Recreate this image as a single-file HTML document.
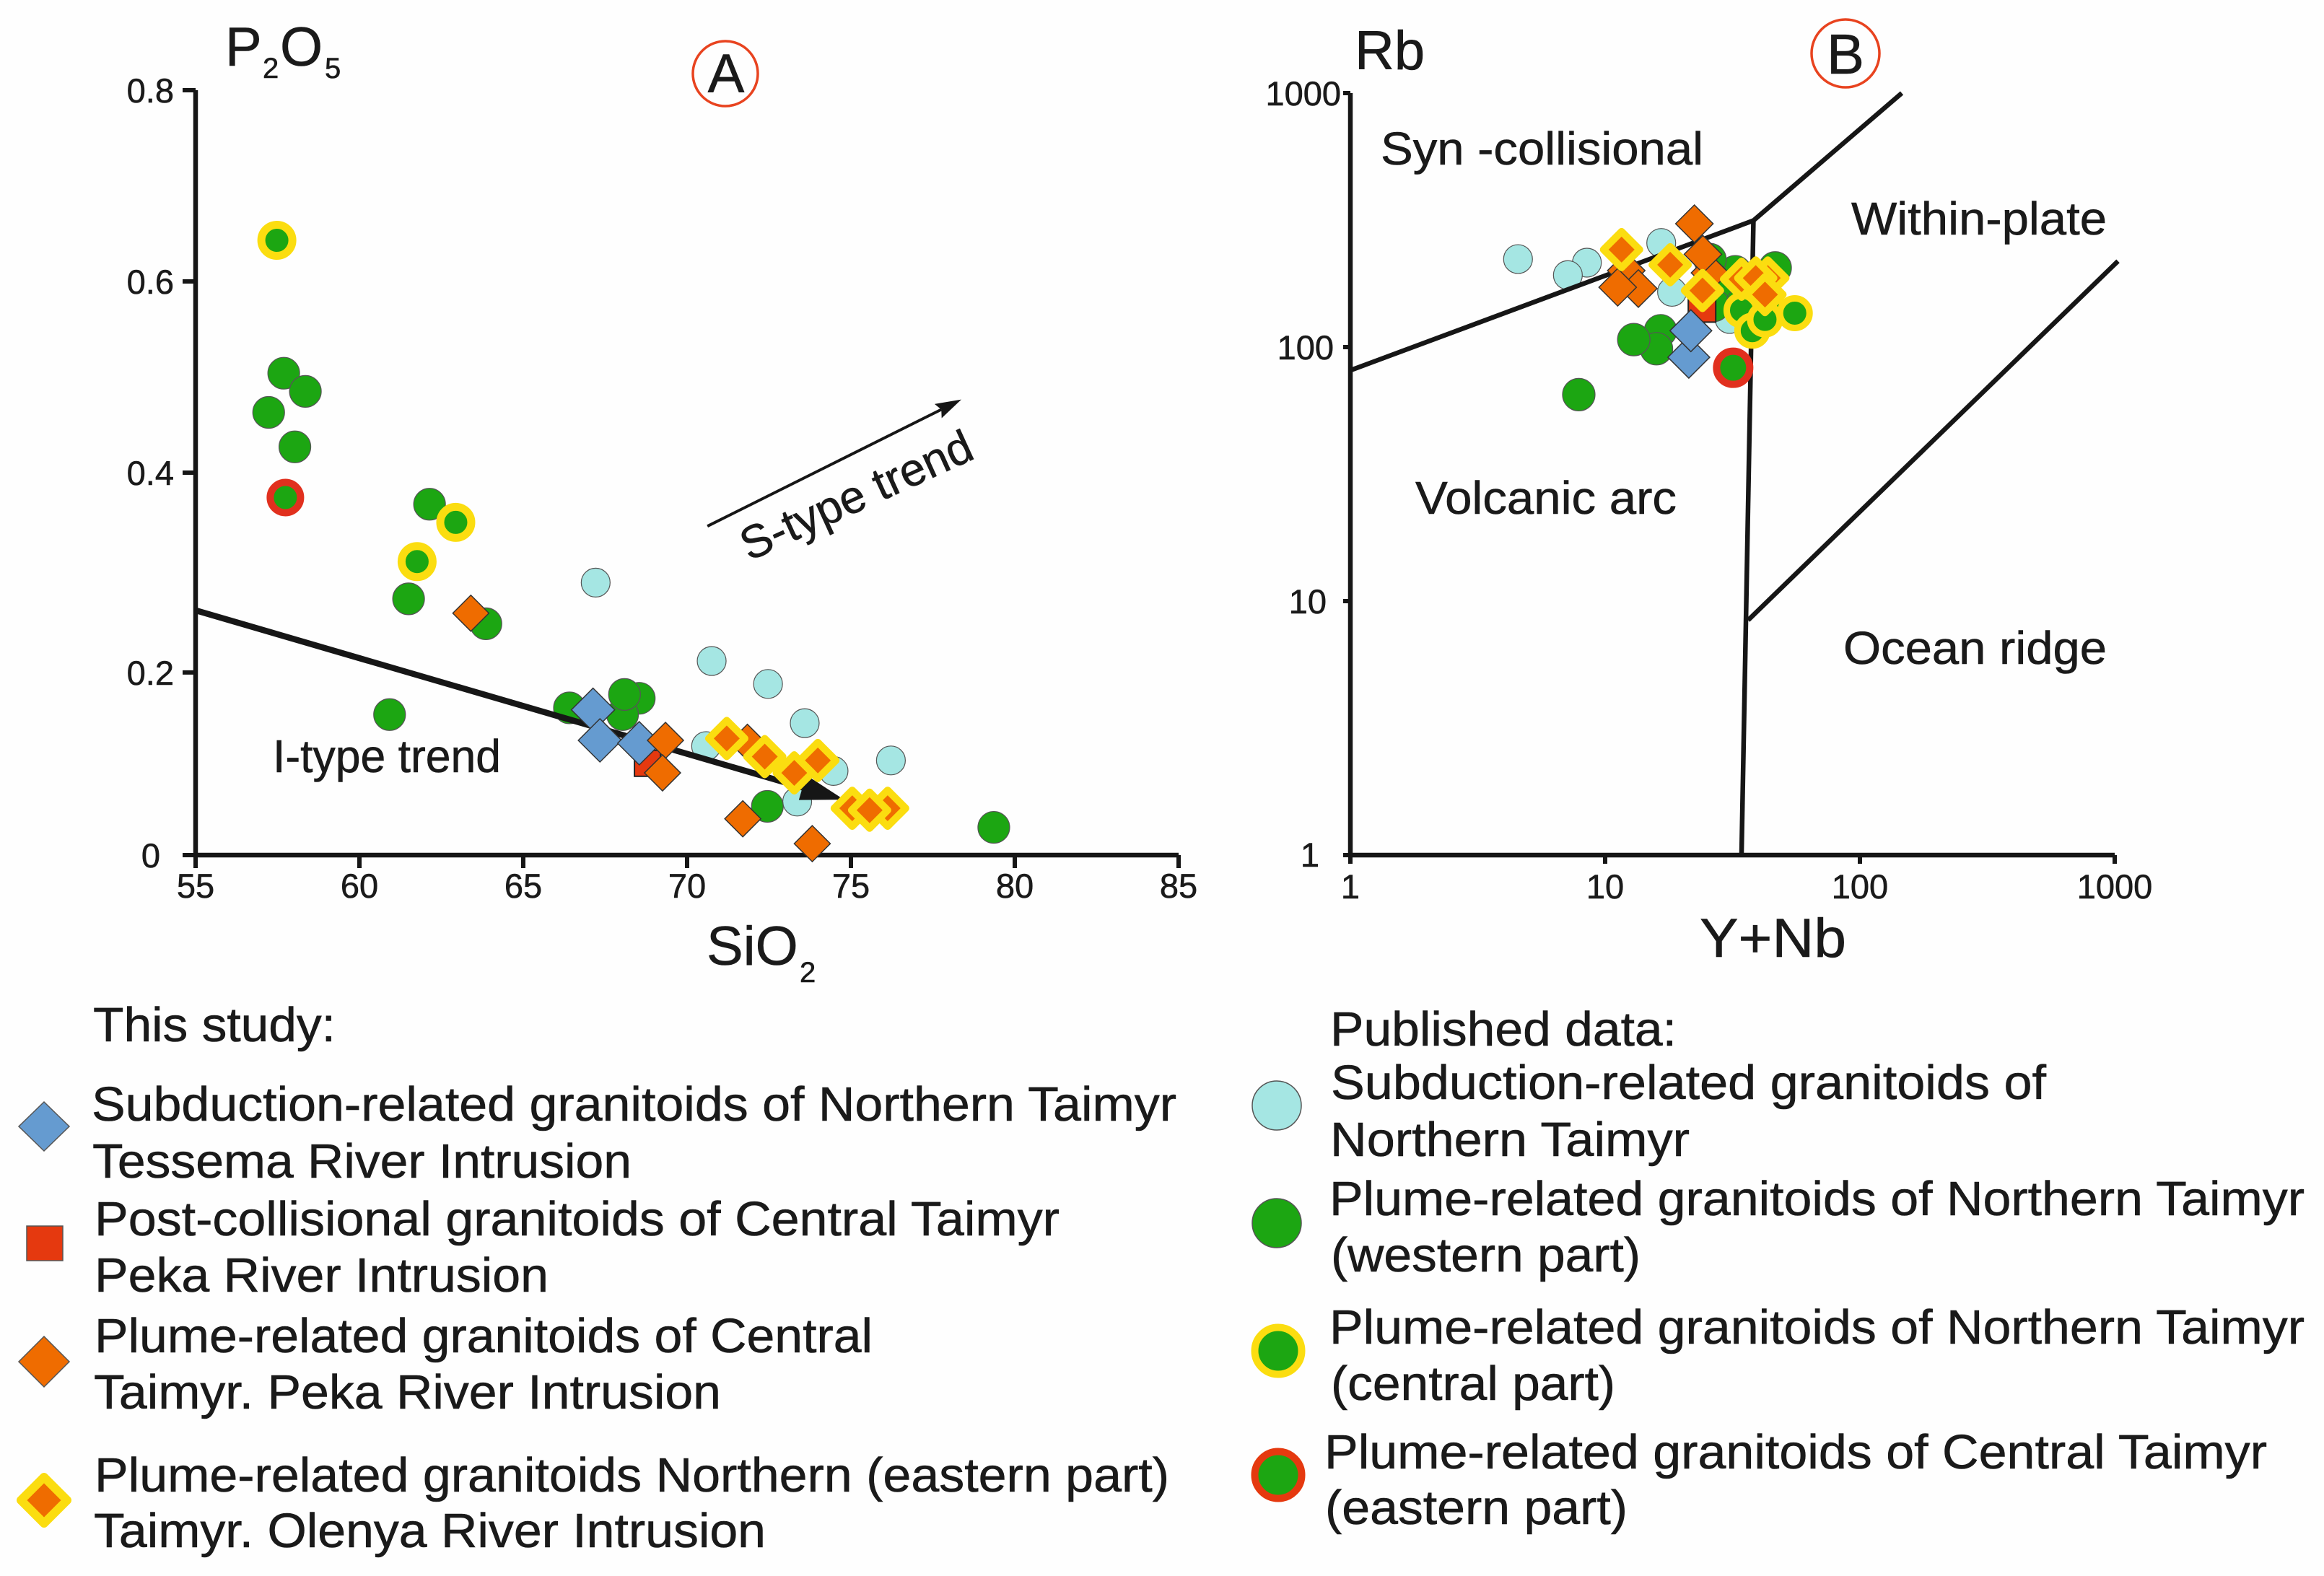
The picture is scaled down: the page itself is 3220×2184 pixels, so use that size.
<!DOCTYPE html>
<html lang="en">
<head>
<meta charset="utf-8">
<title>P2O5 vs SiO2 and Rb vs Y+Nb discrimination diagrams</title>
<style>
html,body{margin:0;padding:0;background:#fefefe;}
svg{display:block;}
text{font-family:"Liberation Sans",Arial,sans-serif;fill:#1a1a1a;stroke:#1a1a1a;stroke-width:0.6px;}
.leg{font-size:67px;}
.reg{font-size:64px;}
.ttl{font-size:76px;}
.sub{font-size:40px;}
.tick{font-size:47px;}
</style>
</head>
<body>
<svg id="chart" xmlns="http://www.w3.org/2000/svg" width="3220" height="2184" viewBox="0 0 3220 2184">
  <rect width="3220" height="2184" fill="#fefefe"/>
  <g id="plotA"></g>
  <g id="plotB"></g>

  <text class="ttl" y="91"><tspan x="312">P</tspan><tspan class="sub" x="364" y="108">2</tspan><tspan x="388" y="91">O</tspan><tspan class="sub" x="450" y="108">5</tspan></text>
  <text class="ttl" y="1337"><tspan x="979">SiO</tspan><tspan class="sub" x="1108" y="1361">2</tspan></text>
  <circle cx="1005" cy="102" r="45" fill="none" stroke="#e8431f" stroke-width="3.5"/>
  <text x="1006" y="128" text-anchor="middle" font-size="76">A</text>
  <text class="reg" x="378" y="1070" textLength="316" lengthAdjust="spacingAndGlyphs">I-type trend</text>
  <text class="reg" transform="translate(1038 778) rotate(-24.5)" textLength="346" lengthAdjust="spacingAndGlyphs">S-type trend</text>

  <text class="ttl" x="1877" y="96">Rb</text>
  <text class="ttl" x="2355" y="1326" textLength="203" lengthAdjust="spacingAndGlyphs">Y+Nb</text>
  <circle cx="2557" cy="74" r="47" fill="none" stroke="#e8431f" stroke-width="3.5"/>
  <text x="2557" y="102" text-anchor="middle" font-size="78">B</text>
  <text class="reg" x="1913" y="228" textLength="447" lengthAdjust="spacingAndGlyphs">Syn -collisional</text>
  <text class="reg" x="2565" y="325" textLength="354" lengthAdjust="spacingAndGlyphs">Within-plate</text>
  <text class="reg" x="1961" y="712" textLength="362" lengthAdjust="spacingAndGlyphs">Volcanic arc</text>
  <text class="reg" x="2554" y="920" textLength="365" lengthAdjust="spacingAndGlyphs">Ocean ridge</text>

  <g id="legend-left">
    <text class="leg" x="129" y="1443" textLength="336" lengthAdjust="spacingAndGlyphs">This study:</text>
    <polygon points="61,1527 96,1561 61,1595 26,1561" fill="#659bd0" stroke="#555" stroke-width="1.5"/>
    <text class="leg" x="127" y="1553" textLength="1503" lengthAdjust="spacingAndGlyphs">Subduction-related granitoids of Northern Taimyr</text>
    <text class="leg" x="128" y="1632" textLength="747" lengthAdjust="spacingAndGlyphs">Tessema River Intrusion</text>
    <rect x="37" y="1699" width="50" height="48" fill="#e5390f" stroke="#555" stroke-width="1.5"/>
    <text class="leg" x="131" y="1712" textLength="1337" lengthAdjust="spacingAndGlyphs">Post-collisional granitoids of Central Taimyr</text>
    <text class="leg" x="131" y="1790" textLength="629" lengthAdjust="spacingAndGlyphs">Peka River Intrusion</text>
    <polygon points="61,1852 96,1887 61,1922 26,1887" fill="#ef6c00" stroke="#555" stroke-width="1.5"/>
    <text class="leg" x="131" y="1874" textLength="1078" lengthAdjust="spacingAndGlyphs">Plume-related granitoids of Central</text>
    <text class="leg" x="130" y="1952" textLength="869" lengthAdjust="spacingAndGlyphs">Taimyr. Peka River Intrusion</text>
    <polygon points="61,2047 93,2079 61,2111 29,2079" fill="#ef6c00" stroke="#fbdd10" stroke-width="12" stroke-linejoin="round"/>
    <text class="leg" x="131" y="2067" textLength="1489" lengthAdjust="spacingAndGlyphs">Plume-related granitoids Northern (eastern part)</text>
    <text class="leg" x="130" y="2144" textLength="931" lengthAdjust="spacingAndGlyphs">Taimyr. Olenya River Intrusion</text>
  </g>

  <g id="legend-right">
    <text class="leg" x="1843" y="1449" textLength="480" lengthAdjust="spacingAndGlyphs">Published data:</text>
    <circle cx="1769" cy="1532" r="34" fill="#a5e6e3" stroke="#555" stroke-width="1.5"/>
    <text class="leg" x="1844" y="1523" textLength="991" lengthAdjust="spacingAndGlyphs">Subduction-related granitoids of</text>
    <text class="leg" x="1843" y="1602" textLength="498" lengthAdjust="spacingAndGlyphs">Northern Taimyr</text>
    <circle cx="1769" cy="1695" r="34" fill="#1ca612" stroke="#555" stroke-width="1.5"/>
    <text class="leg" x="1842" y="1684" textLength="1351" lengthAdjust="spacingAndGlyphs">Plume-related granitoids of Northern Taimyr</text>
    <text class="leg" x="1844" y="1762" textLength="429" lengthAdjust="spacingAndGlyphs">(western part)</text>
    <circle cx="1771" cy="1872" r="32.5" fill="#1ca612" stroke="#fbdd10" stroke-width="10"/>
    <text class="leg" x="1842" y="1862" textLength="1351" lengthAdjust="spacingAndGlyphs">Plume-related granitoids of Northern Taimyr</text>
    <text class="leg" x="1844" y="1940" textLength="394" lengthAdjust="spacingAndGlyphs">(central part)</text>
    <circle cx="1771" cy="2044" r="32.5" fill="#1ca612" stroke="#e5390f" stroke-width="10"/>
    <text class="leg" x="1835" y="2035" textLength="1306" lengthAdjust="spacingAndGlyphs">Plume-related granitoids of Central Taimyr</text>
    <text class="leg" x="1836" y="2112" textLength="419" lengthAdjust="spacingAndGlyphs">(eastern part)</text>
  </g>
</svg>

<script>
// ---------- Panel A data: SiO2 (x) vs P2O5 (y) ----------
const aXTicks = [55, 60, 65, 70, 75, 80, 85];
const aYTicks = [0, 0.191, 0.4, 0.6, 0.8];
const aYTickLabels = ['0', '0.2', '0.4', '0.6', '0.8'];

const aCyanX = [67.21, 70.75, 72.47, 73.59, 76.22, 74.47, 70.58, 73.36];
const aCyanY = [0.285, 0.203, 0.179, 0.138, 0.099, 0.088, 0.114, 0.056];
const aGreenX = [57.69, 58.35, 57.23, 58.03, 62.14, 61.5, 63.86, 60.92, 66.41, 68.54, 68.03, 68.09, 72.45, 79.36];
const aGreenY = [0.504, 0.485, 0.463, 0.427, 0.367, 0.268, 0.242, 0.147, 0.154, 0.164, 0.147, 0.168, 0.051, 0.029];
const aYellowRingX = [57.48, 62.94, 61.76];
const aYellowRingY = [0.643, 0.348, 0.307];
const aRedRingX = [57.74];
const aRedRingY = [0.374];
const aSquareX = [68.79];
const aSquareY = [0.096];
const aBlueX = [67.13, 67.34, 68.54];
const aBlueY = [0.152, 0.12, 0.117];
const aOrangeX = [63.4, 69.34, 69.25, 71.84, 71.7, 73.82];
const aOrangeY = [0.253, 0.12, 0.086, 0.118, 0.038, 0.012];
const aYellowOrangeX = [71.21, 72.37, 73.99, 73.27, 75.04, 76.12, 75.57];
const aYellowOrangeY = [0.122, 0.103, 0.099, 0.086, 0.049, 0.049, 0.047];

const iTrendX = [55, 74.79];
const iTrendY = [0.256, 0.058];
const sTrendX = [70.62, 78.37];
const sTrendY = [0.344, 0.4765];

// ---------- Panel B data: Y+Nb (x) vs Rb (y), log-log ----------
const bXTicks = [1, 10, 100, 1000];
const bYTicks = [1, 10, 100, 1000];
const bTickLabels = ['1', '10', '100', '1000'];

const bCyanX = [4.55, 8.48, 7.14, 16.6, 18.3, 30.8];
const bCyanY = [222, 215, 192, 257, 165, 129];
const bGreenX = [7.88, 16.5, 15.9, 12.95, 32.4, 30.4, 46.5, 26.7, 34.7, 25.8];
const bGreenY = [65, 116, 98.5, 107, 198, 159, 205, 146, 149, 221];
const bYellowRingX = [43.5, 34.3, 37.8, 42.4, 55.5];
const bYellowRingY = [143, 139.6, 116, 128.5, 136];
const bRedRingX = [31.8];
const bRedRingY = [82.9];
const bSquareX = [24];
const bSquareY = [142];
const bBlueX = [21.3, 21.7];
const bBlueY = [91.2, 116];
const bOrangeX = [22.4, 25.8, 24.2, 12.1, 13.5, 11.2];
const bOrangeY = [306, 196, 232, 200, 170, 172];
const bYellowOrangeX = [11.6, 18, 24.1, 43.5, 34.3, 39, 42.4];
const bYellowOrangeY = [242, 211, 167, 187, 185, 187, 161];

// Field boundaries (Pearce diagram)
const boundaryUpperX = [1, 38.2, 146];
const boundaryUpperY = [81, 315, 1000];
const boundaryVerticalX = [38.2, 34.3];
const boundaryVerticalY = [315, 1];
const boundaryRidgeX = [36.4, 1030];
const boundaryRidgeY = [8.41, 218];

// ---------- Axis functions ----------
const aX = v => 271 + (v - 55) * (1633 - 271) / 30;
const aY = v => 1185 - v * (1185 - 125) / 0.8;
const bX = v => 1871 + Math.log10(v) * 353;
const bY = v => 1185 - Math.log10(v) * 352;

const NS = 'http://www.w3.org/2000/svg';
const INK = '#161616';
const CYAN = '#a5e6e3', GREEN = '#1ca612', BLUE = '#659bd0', ORANGE = '#ef6c00';
const SQUARE = '#e5390f', YELLOW = '#fbdd10', RING_RED = '#e1301e';

function make(tag, attrs, parent) {
  const el = document.createElementNS(NS, tag);
  for (const k in attrs) el.setAttribute(k, attrs[k]);
  parent.appendChild(el);
  return el;
}
function diamondPoints(x, y, h) {
  return [x, y - h, x + h, y, x, y + h, x - h, y].join(',');
}

function drawCircles(g, xs, ys, fx, fy, r, fill, ring, ringWidth, name) {
  xs.forEach((v, i) => {
    const el = make('circle', {
      cx: fx(v), cy: fy(ys[i]), r: r, fill: fill,
      stroke: ring, 'stroke-width': ringWidth
    }, g);
    
    
  });
}
function drawDiamonds(g, xs, ys, fx, fy, h, fill, line, lineWidth, join, name) {
  xs.forEach((v, i) => {
    const el = make('polygon', {
      points: diamondPoints(fx(v), fy(ys[i]), h), fill: fill,
      stroke: line, 'stroke-width': lineWidth, 'stroke-linejoin': join
    }, g);
    
    
  });
}
function drawSquares(g, xs, ys, fx, fy, h, name) {
  xs.forEach((v, i) => {
    const el = make('rect', {
      x: fx(v) - h, y: fy(ys[i]) - h, width: 2 * h, height: 2 * h,
      fill: SQUARE, stroke: '#222', 'stroke-width': 2
    }, g);
    
    
  });
}
function drawPolyline(g, xs, ys, fx, fy, width, name) {
  const pts = xs.map((v, i) => fx(v) + ',' + fy(ys[i])).join(' ');
  const el = make('polyline', {
    points: pts, fill: 'none', stroke: INK, 'stroke-width': width, 'stroke-linejoin': 'miter'
  }, g);
  
  
}
function drawArrow(g, xs, ys, fx, fy, width, headLen, headHalf, notch, name) {
  const x1 = fx(xs[0]), y1 = fy(ys[0]), x2 = fx(xs[1]), y2 = fy(ys[1]);
  const d = Math.hypot(x2 - x1, y2 - y1), ux = (x2 - x1) / d, uy = (y2 - y1) / d;
  const bx = x2 - ux * headLen, by = y2 - uy * headLen;
  const nx = bx + ux * notch, ny = by + uy * notch;
  const shaft = make('line', { x1: x1, y1: y1, x2: nx, y2: ny, stroke: INK, 'stroke-width': width }, g);
  
  
  const head = make('polygon', {
    points: [x2, y2, bx - uy * headHalf, by + ux * headHalf, nx, ny, bx + uy * headHalf, by - ux * headHalf].join(','),
    fill: INK
  }, g);
  
  
}
function drawText(g, x, y, str, anchor, name) {
  const el = make('text', { x: x, y: y, 'text-anchor': anchor, 'class': 'tick' }, g);
  el.textContent = str;
  
  
}

// ---------- Panel A ----------
const gA = document.getElementById('plotA');

drawCircles(gA, aCyanX, aCyanY, aX, aY, 20, CYAN, '#555', 1.2, 'panel-a-subduction-published-point');
drawCircles(gA, aGreenX, aGreenY, aX, aY, 22, GREEN, '#555', 1.2, 'panel-a-plume-western-point');
drawArrow(gA, iTrendX, iTrendY, aX, aY, 8.5, 60, 18, 0, 'i-type-trend');
drawArrow(gA, sTrendX, sTrendY, aX, aY, 4, 36, 11, 5, 's-type-trend');

const axisA = make('polyline', { points: [aX(55), aY(0.8), aX(55), aY(0), aX(85), aY(0)].join(','), fill: 'none', stroke: INK, 'stroke-width': 6.5 }, gA);


aXTicks.forEach(v => {
  const t = make('line', { x1: aX(v), y1: aY(0), x2: aX(v), y2: aY(0) + 18, stroke: INK, 'stroke-width': 6 }, gA);
  
  
  drawText(gA, aX(v), 1244, String(v), 'middle', 'panel-a-x-tick-label');
});
aYTicks.forEach((v, i) => {
  const t = make('line', { x1: aX(55) - 18, y1: aY(v), x2: aX(55), y2: aY(v), stroke: INK, 'stroke-width': 6 }, gA);
  
  
  drawText(gA, i === 0 ? 222 : 241, aY(v) + 17, aYTickLabels[i], 'end', 'panel-a-y-tick-label');
});

drawSquares(gA, aSquareX, aSquareY, aX, aY, 18, 'panel-a-post-collisional-point');
drawDiamonds(gA, aBlueX, aBlueY, aX, aY, 30, BLUE, '#333', 1.5, 'miter', 'panel-a-subduction-tessema-point');
drawDiamonds(gA, aOrangeX, aOrangeY, aX, aY, 25, ORANGE, '#333', 1.5, 'miter', 'panel-a-plume-central-peka-point');
drawCircles(gA, aYellowRingX, aYellowRingY, aX, aY, 21.5, GREEN, YELLOW, 11, 'panel-a-plume-central-part-point');
drawCircles(gA, aRedRingX, aRedRingY, aX, aY, 21, GREEN, RING_RED, 10, 'panel-a-plume-eastern-part-point');
drawDiamonds(gA, aYellowOrangeX, aYellowOrangeY, aX, aY, 25, ORANGE, YELLOW, 10, 'round', 'panel-a-plume-olenya-point');

// ---------- Panel B ----------
const gB = document.getElementById('plotB');

drawCircles(gB, bCyanX, bCyanY, bX, bY, 20, CYAN, '#555', 1.2, 'panel-b-subduction-published-point');
drawPolyline(gB, boundaryUpperX, boundaryUpperY, bX, bY, 6.5, 'syn-collisional-boundary');
drawPolyline(gB, boundaryVerticalX, boundaryVerticalY, bX, bY, 6.5, 'within-plate-boundary');
drawPolyline(gB, boundaryRidgeX, boundaryRidgeY, bX, bY, 6.5, 'ocean-ridge-boundary');

const axisB = make('polyline', { points: [bX(1), bY(1000), bX(1), bY(1), bX(1000), bY(1)].join(','), fill: 'none', stroke: INK, 'stroke-width': 6.5 }, gB);


bXTicks.forEach((v, i) => {
  const t = make('line', { x1: bX(v), y1: bY(1), x2: bX(v), y2: bY(1) + 12, stroke: INK, 'stroke-width': 6 }, gB);
  
  
  drawText(gB, bX(v), 1245, bTickLabels[i], 'middle', 'panel-b-x-tick-label');
});
bYTicks.forEach((v, i) => {
  const t = make('line', { x1: bX(1) - 10, y1: bY(v), x2: bX(1), y2: bY(v), stroke: INK, 'stroke-width': 6 }, gB);
  
  
  drawText(gB, 1828 + i * 10, bY(v) + (i === 0 ? 16 : 17), bTickLabels[i], 'end', 'panel-b-y-tick-label');
});

drawCircles(gB, bGreenX, bGreenY, bX, bY, 22.5, GREEN, '#555', 1.2, 'panel-b-plume-western-point');
drawSquares(gB, bSquareX, bSquareY, bX, bY, 19, 'panel-b-post-collisional-point');
drawDiamonds(gB, bBlueX, bBlueY, bX, bY, 29, BLUE, '#333', 1.5, 'miter', 'panel-b-subduction-tessema-point');
drawDiamonds(gB, bOrangeX, bOrangeY, bX, bY, 26, ORANGE, '#333', 1.5, 'miter', 'panel-b-plume-central-peka-point');
drawCircles(gB, bYellowRingX, bYellowRingY, bX, bY, 20.5, GREEN, YELLOW, 9, 'panel-b-plume-central-part-point');
drawCircles(gB, bRedRingX, bRedRingY, bX, bY, 23, GREEN, RING_RED, 10, 'panel-b-plume-eastern-part-point');
drawDiamonds(gB, bYellowOrangeX, bYellowOrangeY, bX, bY, 25, ORANGE, YELLOW, 10, 'round', 'panel-b-plume-olenya-point');
</script>
</body>
</html>
